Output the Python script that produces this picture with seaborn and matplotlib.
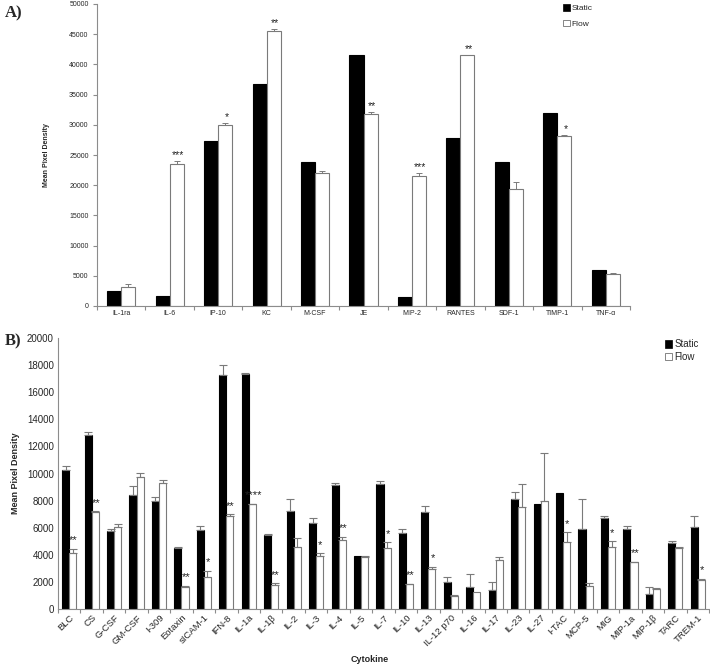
import numpy as np
import pandas as pd
import matplotlib
matplotlib.use("Agg")
import matplotlib.pyplot as plt
from matplotlib.patches import Patch
import seaborn as sns

# ---------------- Panel A data ----------------
a_cats = ["IL-1ra", "IL-6", "IP-10", "KC", "M-CSF", "JE", "MIP-2", "RANTES", "SDF-1", "TIMP-1", "TNF-α"]
a_static = [2500, 1700, 27300, 36700, 23800, 41500, 1500, 27800, 23800, 31900, 5900]
a_flow = [3100, 23500, 29900, 45600, 22100, 31800, 21600, 41500, 19300, 28200, 5300]
a_static_err = [0, 0, 0, 0, 0, 0, 0, 0, 0, 0, 0]
a_flow_err = [550, 450, 450, 300, 200, 250, 350, 120, 1300, 120, 120]
a_sig = ["", "***", "*", "**", "", "**", "***", "**", "", "*", ""]

# ---------------- Panel B data ----------------
b_cats = ["BLC", "CS", "G-CSF", "GM-CSF", "I-309", "Eotaxin", "sICAM-1", "IFN-8", "IL-1a", "IL-1β",
          "IL-2", "IL-3", "IL-4", "IL-5", "IL-7", "IL-10", "IL-13", "IL-12 p70", "IL-16", "IL-17",
          "IL-23", "IL-27", "I-TAC", "MCP-5", "MIG", "MIP-1a", "MIP-1β", "TARC", "TREM-1"]
b_static = [10250, 12820, 5750, 8380, 7970, 4500, 5800, 17280, 17350, 5450,
            7250, 6380, 9150, 3900, 9200, 5620, 7150, 2020, 1600, 1380,
            8150, 7720, 8530, 5920, 6730, 5920, 1130, 4880, 6070]
b_flow = [4120, 7150, 6040, 9720, 9270, 1620, 2380, 6850, 7720, 1800,
          4540, 3920, 5080, 3820, 4500, 1820, 2930, 940, 1220, 3650,
          7500, 7940, 4910, 1680, 4540, 3450, 1480, 4490, 2150]
b_static_err = [280, 270, 150, 730, 300, 100, 350, 720, 50, 50,
                860, 300, 120, 0, 230, 250, 420, 320, 1000, 640,
                520, 0, 0, 2170, 150, 200, 500, 120, 830]
b_flow_err = [330, 50, 200, 340, 250, 80, 430, 150, 50, 110,
              690, 180, 270, 100, 420, 50, 200, 60, 0, 170,
              1720, 3550, 740, 240, 450, 50, 50, 80, 80]
b_sig = ["**", "**", "", "", "", "**", "*", "**", "****", "**",
         "", "*", "**", "", "*", "**", "*", "", "", "",
         "", "", "*", "", "*", "**", "", "", "*"]

sns.set_theme(style="white")
plt.rcParams["font.family"] = ["Liberation Sans", "DejaVu Sans"]

W, H = 710, 666
fig = plt.figure(figsize=(W / 100, H / 100), dpi=100)
axA = fig.add_axes([97 / W, 1 - 306 / H, 533 / W, 302 / H])
axB = fig.add_axes([58 / W, 1 - 609 / H, 651 / W, 271 / H])

SPINE = "#8c8c8c"
EDGE = "#7a7a7a"


def draw(ax, cats, s, f, se, fe, sig, width, ymax, ystep, xfs, yfs, sig_fs, sig_pad,
         err_lw, cap, ytick_len):
    n = len(cats)
    df = pd.DataFrame({
        "Cytokine": cats + cats,
        "value": s + f,
        "cond": ["Static"] * n + ["Flow"] * n,
    })
    sns.barplot(data=df, x="Cytokine", y="value", hue="cond", order=cats,
                hue_order=["Static", "Flow"],
                palette={"Static": "black", "Flow": "white"},
                width=width, errorbar=None, ax=ax, linewidth=0.8)
    if ax.get_legend() is not None:
        ax.get_legend().remove()
    cont_s, cont_f = ax.containers[0], ax.containers[1]
    for p in cont_s:
        p.set_edgecolor("black")
    for p in cont_f:
        p.set_edgecolor(EDGE)
    for cont, errs in ((cont_s, se), (cont_f, fe)):
        xs, ys, es = [], [], []
        for p, e in zip(cont, errs):
            if e > 0:
                xs.append(p.get_x() + p.get_width() / 2)
                ys.append(p.get_height())
                es.append(e)
        if xs:
            ax.errorbar(xs, ys, yerr=[np.zeros(len(es)), es], fmt="none",
                        ecolor=EDGE, elinewidth=err_lw, capsize=cap, capthick=err_lw)
    for p, e, t in zip(cont_f, fe, sig):
        if t:
            ax.text(p.get_x() + p.get_width() * 0.6, p.get_height() + e + sig_pad, t,
                    ha="center", va="bottom", fontsize=sig_fs, color="#222222")
    ax.set_xlim(-0.5, n - 0.5)
    ax.set_ylim(0, ymax)
    ax.set_yticks(np.arange(0, ymax + 1, ystep))
    ax.set_xticks(range(n))
    ax.set_xticks(np.arange(-0.5, n, 1.0), minor=True)
    ax.tick_params(axis="x", which="major", length=0, labelsize=xfs, pad=3)
    ax.tick_params(axis="x", which="minor", length=3, width=0.8, color=SPINE, direction="out", bottom=True)
    ax.tick_params(axis="y", which="major", length=ytick_len, width=0.8, color=SPINE, direction="out",
                   left=True, labelsize=yfs, pad=3)
    for side in ("top", "right"):
        ax.spines[side].set_visible(False)
    for side in ("left", "bottom"):
        ax.spines[side].set_color(SPINE)
        ax.spines[side].set_linewidth(0.8)
    ax.set_xlabel("")
    ax.set_ylabel("")


draw(axA, a_cats, a_static, a_flow, a_static_err, a_flow_err, a_sig,
     width=0.58, ymax=50000, ystep=5000, xfs=5, yfs=5, sig_fs=7.5, sig_pad=150,
     err_lw=0.7, cap=2.5, ytick_len=3)
axA.set_ylabel("Mean Pixel Density", fontsize=5, fontweight="bold", labelpad=14)
axA.legend(handles=[Patch(fc="black", ec="black", lw=0.5), Patch(fc="white", ec="#555555", lw=0.5)],
           labels=["Static", "Flow"], loc="upper left", bbox_to_anchor=(0.868, 1.01),
           frameon=False, fontsize=6, handlelength=0.8, handleheight=0.8,
           handletextpad=0.2, labelspacing=0.9, borderaxespad=0)

draw(axB, b_cats, b_static, b_flow, b_static_err, b_flow_err, b_sig,
     width=0.63, ymax=20000, ystep=2000, xfs=6.8, yfs=7, sig_fs=8, sig_pad=250,
     err_lw=0.8, cap=3, ytick_len=0)
for lbl in axB.get_xticklabels():
    lbl.set_rotation(45)
    lbl.set_ha("right")
    lbl.set_rotation_mode("anchor")
axB.set_ylabel("Mean Pixel Density", fontsize=6.5, fontweight="bold", labelpad=5)
fig.text(370 / W, 1 - 659 / H, "Cytokine", fontsize=6.5, fontweight="bold", ha="center", va="center")
axB.legend(handles=[Patch(fc="black", ec="black", lw=0.5), Patch(fc="white", ec="#555555", lw=0.5)],
           labels=["Static", "Flow"], loc="upper left", bbox_to_anchor=(0.926, 1.01),
           frameon=False, fontsize=7, handlelength=0.8, handleheight=0.8,
           handletextpad=0.2, labelspacing=0.3, borderaxespad=0)

fig.text(5 / W, 1 - 13 / H, "A)", fontsize=12, fontweight="bold", family="Liberation Serif", va="center")
fig.text(5 / W, 1 - 341 / H, "B)", fontsize=12, fontweight="bold", family="Liberation Serif", va="center")

fig.savefig("out.png", dpi=100)
